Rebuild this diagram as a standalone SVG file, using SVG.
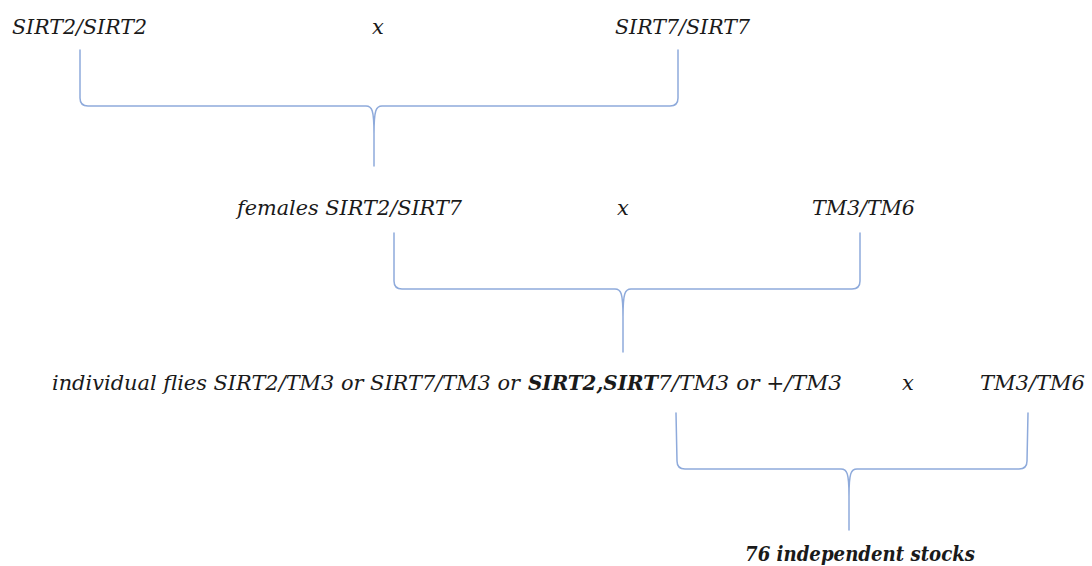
<svg xmlns="http://www.w3.org/2000/svg" width="1092" height="566" viewBox="0 0 1092 566">
<style>
text{font-family:"DejaVu Serif","Liberation Serif",serif;font-style:italic;font-size:21px;fill:#1a1a1a}
.b{font-weight:bold}
.br{fill:none;stroke:#8eaadb;stroke-width:1.5;stroke-linejoin:round;stroke-linecap:round}
</style>
<rect width="1092" height="566" fill="#ffffff"/>
<g id="connectors">
<path class="br" d="M80,50 L80,98 Q80,106 88,106 L366,106 C372,106 374,110 374,134 L374,166 M678,50 L678,98 Q678,106 670,106 L382,106 C376,106 374,110 374,134"/>
<path class="br" d="M394,233 L394,281 Q394,289 402,289 L615,289 C621,289 623,293 623,317 L623,352 M860,233 L860,281 Q860,289 852,289 L631,289 C625,289 623,293 623,317"/>
<path class="br" d="M676,413 L677,461 Q677,469 685,469 L841,469 C847,469 849,473 849,496 L849,530 M1028,413 L1027,461 Q1027,469 1019,469 L857,469 C851,469 849,473 849,496"/>
</g>
<g id="p1"><text x="12" y="34" textLength="135" lengthAdjust="spacingAndGlyphs">SIRT2/SIRT2</text></g>
<g id="cross1"><text x="372" y="34">x</text></g>
<g id="p2"><text x="615" y="34" textLength="135" lengthAdjust="spacingAndGlyphs">SIRT7/SIRT7</text></g>
<g id="f1"><text x="237" y="215" textLength="225" lengthAdjust="spacingAndGlyphs">females SIRT2/SIRT7</text></g>
<g id="cross2"><text x="617" y="215">x</text></g>
<g id="bal1"><text x="812" y="215" textLength="103" lengthAdjust="spacingAndGlyphs">TM3/TM6</text></g>
<g id="f2">
<text x="52" y="390" textLength="468" lengthAdjust="spacingAndGlyphs">individual flies SIRT2/TM3 or SIRT7/TM3 or</text>
<text class="b" x="528" y="390" textLength="130" lengthAdjust="spacingAndGlyphs">SIRT2,SIRT</text>
<text x="658" y="390" textLength="184" lengthAdjust="spacingAndGlyphs">7/TM3 or +/TM3</text>
</g>
<g id="cross3"><text x="902" y="390">x</text></g>
<g id="bal2"><text x="980" y="390" textLength="105" lengthAdjust="spacingAndGlyphs">TM3/TM6</text></g>
<g id="result"><text class="b" x="745" y="561" textLength="230" lengthAdjust="spacingAndGlyphs">76 independent stocks</text></g>
</svg>
